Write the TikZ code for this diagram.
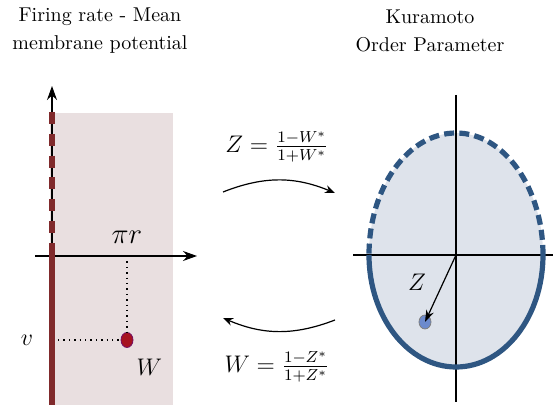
\documentclass[tikz,border=0pt]{standalone}
\usepackage{amsmath}
\usepackage{tikz}
\usetikzlibrary{arrows.meta,positioning,shapes.geometric}

\definecolor{panelpink}{RGB}{233,223,224}
\definecolor{axisred}{RGB}{128,42,44}
\definecolor{dotred}{RGB}{166,18,32}
\definecolor{discfill}{RGB}{222,227,235}
\definecolor{discline}{RGB}{46,86,130}
\definecolor{dotblue}{RGB}{108,138,205}

\begin{document}
\begin{tikzpicture}[
  x=0.5pt, y=0.5pt,
  title/.style={align=center, font=\normalsize},
  mlabel/.style={font=\large},
  axis/.style={line width=0.55pt},
  redline/.style={draw=axisred, line width=2.6pt},
  discedge/.style={draw=discline, line width=2.6pt},
  map/.style={line width=0.6pt, -{Stealth[length=5pt,width=4pt]}},
  >={Stealth[length=7pt,width=5pt]}
]
\useasboundingbox (0,0) rectangle (553,408);

% titles
\node[title] (ttl1) at (100,377) {Firing rate - Mean\\[2pt]membrane potential};
\node[title] (ttl2) at (430,377) {Kuramoto\\[2pt]Order Parameter};

% left panel: (r,v) half plane
\fill[panelpink] (50,3) rectangle (173,295);
\coordinate (vtop) at (52,322);
\coordinate (vbot) at (52,3);
\coordinate (vmid) at (52,165);
\coordinate (hl) at (35,152);
\coordinate (hr) at (197,152);
\draw[axis,->] (52,152) -- (vtop);
\draw[axis,->] (hl) -- (hr);
\draw[redline] (vbot) -- (vmid);
\draw[redline, dash pattern=on 6pt off 4.9pt] (52,296) -- (vmid);

\node[ellipse, fill=dotred, draw=dotred!70!blue, line width=0.4pt, inner sep=0pt,
  minimum width=6pt, minimum height=7.5pt] (wdot) at (127,68) {};
\coordinate (rtick) at (127,152);
\node[mlabel, font=\Large] (pir) at (127,171) {$\pi r$};
\node[mlabel] (vlab) at (27,68) {$v$};
\node[mlabel, below right=3pt and -1pt of wdot] (wlab) {$W$};
\draw[dotted, line width=0.7pt] (rtick) -- (wdot);
\draw[dotted, line width=0.7pt] (58,68) -- (wdot);

% maps between the two pictures
\coordinate (upl) at (223,216);
\coordinate (upr) at (335,215);
\coordinate (lol) at (223,90);
\coordinate (lor) at (335,88);
\draw[map] (upl) to[bend left=22] (upr);
\draw[map] (lor) to[bend left=22] (lol);
\node[mlabel] (zmap) at (277,261) {$Z=\frac{1-W^*}{1+W^*}$};
\node[mlabel] (wmap) at (277,41) {$W=\frac{1-Z^*}{1+Z^*}$};

% right panel: unit disc
\coordinate (o) at (456,153);
\fill[discfill] (543,153) arc[start angle=0, end angle=180, x radius=43.5pt, y radius=61pt]
  arc[start angle=180, end angle=360, x radius=43.5pt, y radius=56pt];
\draw[axis] (456,313) -- (456,6);
\draw[axis] (353,153) -- (553,153);
\draw[discedge, dash pattern=on 5pt off 2.6pt] (543,153)
  arc[start angle=0, end angle=180, x radius=43.5pt, y radius=61pt];
\draw[discedge] (369,153)
  arc[start angle=180, end angle=360, x radius=43.5pt, y radius=56pt];

\node[ellipse, fill=dotblue, draw=gray, line width=0.4pt, inner sep=0pt,
  minimum width=6pt, minimum height=7pt] (zdot) at (425,86) {};
\draw[line width=0.6pt, -{Stealth[length=6pt,width=4pt]}] (o) -- (zdot.center);
\node[mlabel] (zlab) at (417,126) {$Z$};
\end{tikzpicture}
\end{document}
